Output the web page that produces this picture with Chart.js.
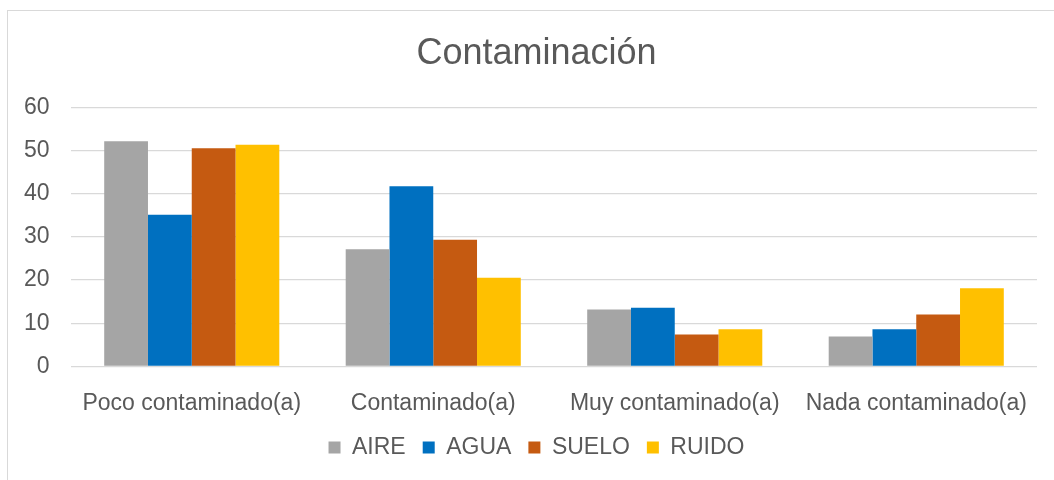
<html>
<head>
    <title>Contaminación</title>
    <script src="https://cdn.jsdelivr.net/npm/chart.js"></script>
    <style>
        body { margin: 0; background: #fff; }
        #wrap { position: relative; width: 1054px; height: 480px; overflow: hidden; }
        #frame { position: absolute; left: 7px; top: 10px; width: 1100px; height: 520px; border: 1px solid #d9d9d9; }
        #graph { position: absolute; left: 0; top: 0; }
    </style>
</head>
<body>
<div id="wrap">
    <div id="frame"></div>
    <canvas id="graph" width="1054" height="480" role="img"></canvas>
</div>
<script>
    // data
    const categories = ['Poco contaminado(a)', 'Contaminado(a)', 'Muy contaminado(a)', 'Nada contaminado(a)'];
    const aire  = [52.1, 27.1, 13.2, 6.9];
    const agua  = [35.1, 41.7, 13.6, 8.6];
    const suelo = [50.5, 29.3, 7.4, 12.0];
    const ruido = [51.3, 20.5, 8.6, 18.1];

    const txt = '#595959';
    const fam = '"Liberation Sans", Arial, sans-serif';

    const data = {
        labels: categories,
        datasets: [
            { label: 'AIRE', data: aire, backgroundColor: '#A5A5A5' },
            { label: 'AGUA', data: agua, backgroundColor: '#0070C0' },
            { label: 'SUELO', data: suelo, backgroundColor: '#C55A11' },
            { label: 'RUIDO', data: ruido, backgroundColor: '#FFC000' }
        ]
    };

    const config = {
        type: 'bar',
        data: data,
        options: {
            responsive: false,
            animation: false,
            layout: { padding: { left: 36, right: 17, top: 22, bottom: 11 } },
            datasets: { bar: { categoryPercentage: 0.725, barPercentage: 1 } },
            plugins: {
                title: {
                    display: true,
                    text: 'Contaminación',
                    color: txt,
                    font: { family: fam, size: 36, weight: 'normal' },
                    padding: { top: 10, bottom: 32 }
                },
                legend: {
                    position: 'bottom',
                    // empty title with negative padding pulls the legend closer to the axis labels
                    title: { display: true, text: '', font: { size: 0 }, padding: { top: -13, bottom: 0 } },
                    labels: {
                        color: txt,
                        font: { family: fam, size: 23 },
                        boxWidth: 12,
                        boxHeight: 12,
                        padding: 17
                    }
                },
                tooltip: { enabled: false }
            },
            scales: {
                x: {
                    grid: { display: false },
                    border: { display: false },
                    ticks: { color: txt, font: { family: fam, size: 23 }, padding: 15, maxRotation: 0 },
                    afterFit: function(scale) {
                        scale.paddingLeft = 0;
                        scale.paddingRight = 0;
                    }
                },
                y: {
                    min: 0,
                    max: 60,
                    ticks: {
                        stepSize: 10, color: txt, font: { family: fam, size: 23 },
                        mirror: true, crossAlign: 'far', padding: -47
                    },
                    grid: { color: '#d9d9d9', lineWidth: 1.3, drawTicks: false },
                    border: { display: false },
                    afterFit: function(scale) {
                        scale.width = 35;
                    }
                }
            }
        }
    };

    new Chart(document.getElementById('graph'), config);
</script>
</body>
</html>
